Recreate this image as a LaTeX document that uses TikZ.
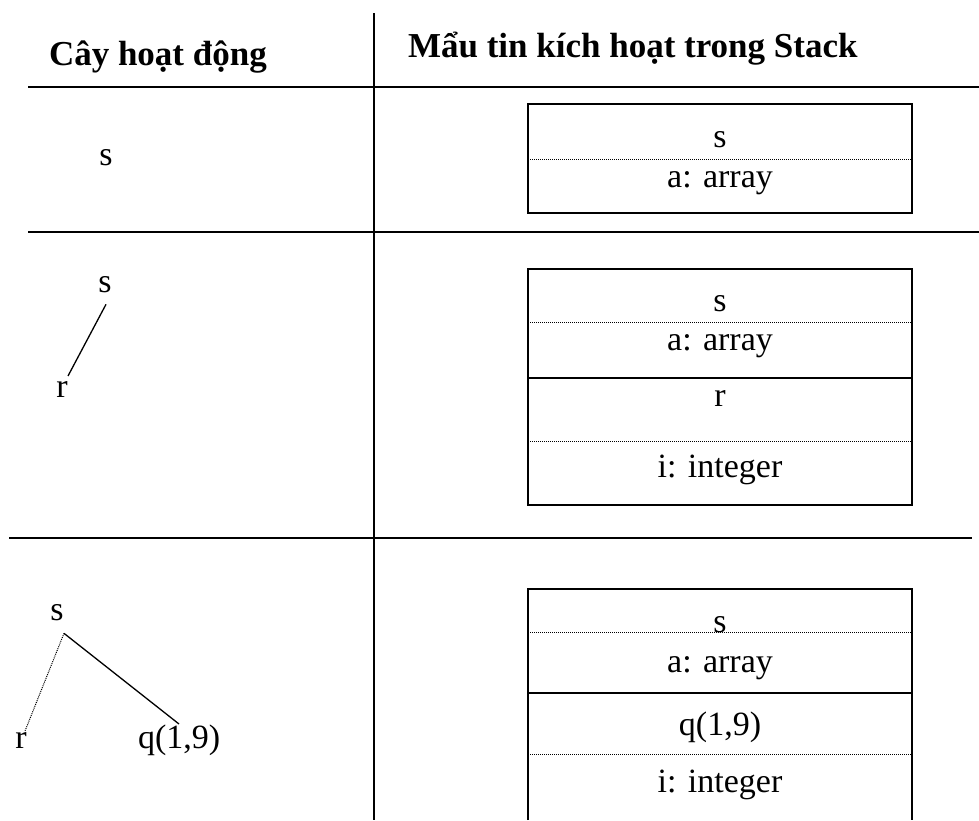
\documentclass[tikz,border=0pt]{standalone}
\usepackage{fontspec}
\setmainfont{Liberation Serif}
\begin{document}
\begin{tikzpicture}[x=1pt,y=-1pt,
  txt/.style={inner sep=0pt,outer sep=0pt,anchor=base,font=\fontsize{34}{40}\selectfont},
  hdr/.style={inner sep=0pt,outer sep=0pt,anchor=base west,font=\fontsize{35}{42}\selectfont\bfseries},
  rule/.style={line width=2pt},
  boxline/.style={line width=2pt},
  dotline/.style={line width=1pt,dash pattern=on 1pt off 1pt},
  edge/.style={line width=1.3pt}]
\useasboundingbox (0,0) rectangle (979,820);
% table rules
\draw[rule] (374,13) -- (374,820);
\draw[rule] (28,87) -- (979,87);
\draw[rule] (28,232) -- (979,232);
\draw[line width=2.5pt] (9,538) -- (972,538);
% headers
\node[hdr] (h1) at (49,65) {Cây hoạt động};
\node[hdr] (h2) at (408,57) {Mẩu tin kích hoạt trong Stack};
% row 1
\node[txt] (s1) at (106,165) {s};
\draw[boxline] (528,104) rectangle (912,213);
\draw[dotline] (528,159) -- (912,159);
\node[txt] (b1s) at (720,147) {s};
\node[txt] (b1a) at (720,187) {a: array};
% row 2
\node[txt] (s2) at (105,292) {s};
\node[txt] (r2) at (62,397) {r};
\draw[edge] ([shift={(1,12)}]s2.south) -- ([shift={(6,-5)}]r2.north);
\draw[boxline] (528,269) rectangle (912,505);
\draw[dotline] (528,322) -- (912,322);
\draw[boxline] (528,378) -- (912,378);
\draw[dotline] (528,441) -- (912,441);
\node[txt] (b2s) at (720,311) {s};
\node[txt] (b2a) at (720,350) {a: array};
\node[txt] (b2r) at (720,406) {r};
\node[txt] (b2i) at (720,477) {i: integer};
% row 3
\node[txt] (s3) at (57,620) {s};
\node[txt] (r3) at (21,748) {r};
\node[txt,anchor=base west] (q3) at (138,748) {q(1,9)};
\draw[dotline] ([shift={(7,13)}]s3.south) -- ([shift={(4,-1)}]r3.north);
\draw[edge] ([shift={(7,13)}]s3.south) -- ([shift={(41,-24)}]q3.base west);
\draw[boxline] (528,820) -- (528,589) -- (912,589) -- (912,820);
\draw[dotline] (528,632) -- (912,632);
\draw[boxline] (528,693) -- (912,693);
\draw[dotline] (528,754) -- (912,754);
\node[txt] (b3s) at (720,632) {s};
\node[txt] (b3a) at (720,672) {a: array};
\node[txt] (b3q) at (720,735) {q(1,9)};
\node[txt] (b3i) at (720,792) {i: integer};
\end{tikzpicture}
\end{document}
